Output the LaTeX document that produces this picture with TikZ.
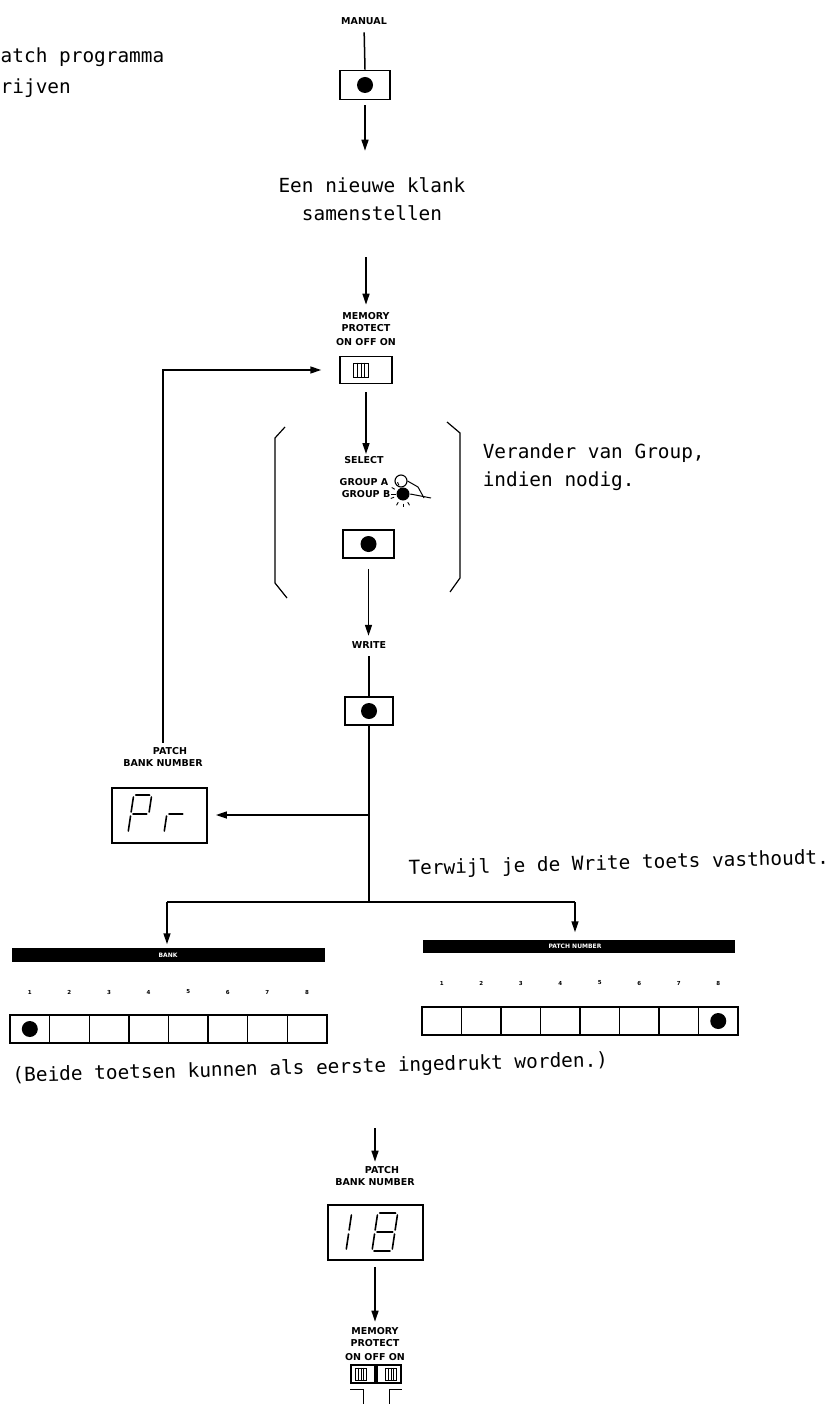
\documentclass[tikz,border=0pt]{standalone}
\usepackage{fontspec}
\setmainfont{DejaVu Sans}
\newfontfamily\monof{DejaVu Sans Mono}
\usetikzlibrary{arrows.meta}
\begin{document}
\begin{tikzpicture}[x=1pt,y=-1pt, line width=1.5pt,
  lbl/.style={font=\bfseries\fontsize{9.5}{12}\selectfont, inner sep=0pt, align=center},
  mono/.style={font=\monof\fontsize{19.4}{28}\selectfont, inner sep=0pt},
  btn/.style={draw, line width=1.8pt, minimum width=50pt, minimum height=29pt, inner sep=0pt},
  blackdot/.style={circle, fill, minimum size=16pt, inner sep=0pt},
  arr/.style={-{Triangle[length=11pt,width=7pt]}, line width=1.5pt},
  disp/.style={draw, line width=1.8pt, minimum width=95pt, minimum height=55pt, inner sep=0pt},
  blackbar/.style={fill=black, inner sep=0pt},
  cellbox/.style={draw, line width=1.4pt, minimum width=39.6pt, minimum height=28pt, inner sep=0pt},
  numtxt/.style={font=\bfseries\fontsize{5.5}{6}\selectfont, inner sep=0pt},
  barlbl/.style={font=\bfseries\fontsize{6}{7}\selectfont, text=white, inner sep=0pt},
  segline/.style={line width=1.6pt, line cap=round},
  swbox/.style={draw, line width=1.5pt, inner sep=0pt},
  slider/.style={draw, line width=0.8pt, minimum width=15pt, minimum height=14pt, inner sep=0pt},
]
\path[use as bounding box, fill=white] (0,0) rectangle (835,1412);

% top-left text
\node[mono, anchor=base west] (tl1) at (0,63) {atch programma};
\node[mono, anchor=base west] (tl2) at (0,94) {rijven};

% MANUAL
\node[lbl] (manlbl) at (364,21) {MANUAL};
\node[btn] (manbtn) at (365,85) {};
\node[blackdot] (mandot) at (manbtn) {};
\draw[shorten <=7pt] (manlbl.south) -- (manbtn.north);

% new sound text
\node[mono, align=center] (t1) at (372,199) {Een nieuwe klank\\samenstellen};
\draw[arr, shorten <=5pt, shorten >=26pt] (manbtn.south) -- (manbtn.south |- t1.north);

% memory protect
\node[lbl] (memlbl) at (366,329) {MEMORY\\PROTECT\\[2pt]ON OFF ON};
\draw[arr, shorten <=36pt, shorten >=7pt] (t1.south -| memlbl.north) -- (memlbl.north);
\node[swbox, minimum width=52pt, minimum height=27pt] (sw1) at (366,370) {};
\node[slider] (sl1) at (361,370) {};
\draw[line width=0.8pt] ([xshift=-3.5pt]sl1.north) -- ([xshift=-3.5pt]sl1.south)
  (sl1.north) -- (sl1.south) ([xshift=3.5pt]sl1.north) -- ([xshift=3.5pt]sl1.south);

% loop from patch bank number back to memory protect
\node[lbl] (prlbl) at (163,757) {\hspace*{14pt}PATCH\\BANK NUMBER};
\draw[arr, shorten <=4pt, shorten >=18pt] (prlbl.north) -- (prlbl.north |- sw1.west) -- (sw1.west);

% select
\draw[arr, shorten <=8pt, shorten >=6pt] (sw1.south) -- (sw1.south |- 0,460);
\node[lbl] (sellbl) at (364,460) {SELECT};
\node[lbl, anchor=east] (ga) at (389,482) {GROUP A};
\node[lbl, anchor=east] (gb) at (391,494) {GROUP B};
\node[circle, draw, line width=1.1pt, minimum size=12pt, inner sep=0pt] (leda) at (401,481) {};
\node[circle, fill, minimum size=13pt, inner sep=0pt] (ledb) at (403,494) {};
\draw[line width=1pt] (gb.east) -- (ledb.west);
\draw[line width=1pt] (leda.east) -- (418,487) -- (424,498);
\draw[line width=1pt] (ledb.east) -- (431,498);
\foreach \a in {-150,-115,160,120,90,60} \draw[line width=0.9pt] (ledb.center) ++(\a:9.5) -- ++(\a:3.5);
\node[btn, minimum width=51pt, minimum height=28pt] (selbtn) at (368.5,544) {};
\node[blackdot] (seldot) at (selbtn) {};

% brackets
\draw[line width=1.2pt] (285,427) -- (275,438) -- (275,583) -- (287,598);
\draw[line width=1.2pt] (447,422) -- (460,433) -- (460,578) -- (450,592);
\node[mono, anchor=base west, align=left] (t2) at (482,486) {Verander van Group,\\indien nodig.};

% write
\node[lbl] (wrlbl) at (369,645) {WRITE};
\draw[arr, shorten <=10pt, shorten >=5pt] (selbtn.south) -- (selbtn.south |- wrlbl.north);
\node[btn, minimum width=48pt, minimum height=28pt] (wrbtn) at (369,711) {};
\node[blackdot] (wrdot) at (wrbtn) {};
\draw[shorten <=7pt] (wrlbl.south) -- (wrbtn.north);
\coordinate (split) at (369,902);
\draw (wrbtn.south) -- (split);

% Pr display
\node[disp] (prbox) at (159.5,815.5) {};
\coordinate (prjoin) at (369,815);
\draw[arr, shorten >=8pt] (prjoin) -- (prbox.east |- prjoin);
\begin{scope}[shift={(128,833)}, xslant=0.15]
  \draw[segline] (2,-38)--(16,-38) (18,-36)--(18,-21) (0,-36)--(0,-21) (2,-19)--(16,-19) (0,-17)--(0,-2);
\end{scope}
\begin{scope}[shift={(164,833)}, xslant=0.15]
  \draw[segline] (2,-19)--(16,-19) (0,-17)--(0,-2);
\end{scope}

\node[mono, anchor=base west, rotate=1.5] (t3) at (408,875) {Terwijl je de Write toets vasthoudt.};

% split to bank / patch number
\coordinate (bk) at (167,902);
\coordinate (pt) at (575,902);
\draw (bk) -- (pt);
\node[blackbar, minimum width=313pt, minimum height=14pt] (bankbar) at (168.5,955) {};
\node[barlbl] (banklbl) at (168,955) {BANK};
\node[blackbar, minimum width=312pt, minimum height=13pt] (patchbar) at (579,946.5) {};
\node[barlbl] (patchlbl) at (575,946.5) {PATCH NUMBER};
\draw[arr, shorten >=3pt] (bk) -- (bk |- bankbar.north);
\draw[arr, shorten >=7pt] (pt) -- (pt |- patchbar.north);

\foreach \i in {1,...,8} {
  \node[numtxt] (bn\i) at ({10+39.6*(\i-0.5)},992) {\i};
  \node[cellbox] (bc\i) at ({10+39.6*(\i-0.5)},1029) {};
  \node[numtxt] (pn\i) at ({422+39.5*(\i-0.5)},983) {\i};
  \node[cellbox, minimum width=39.5pt] (pc\i) at ({422+39.5*(\i-0.5)},1021) {};
}
\node[blackdot] (bdot) at (bc1) {};
\node[blackdot] (pdot) at (pc8) {};

\node[mono, anchor=base west, rotate=1.5] (t4) at (12,1082) {(Beide toetsen kunnen als eerste ingedrukt worden.)};

% bottom column
\coordinate (ar2) at (375,1128);
\node[lbl] (prlbl2) at (375,1176) {\hspace*{14pt}PATCH\\BANK NUMBER};
\draw[arr, shorten >=4pt] (ar2) -- (prlbl2.north);
\node[disp] (disp2) at (375.5,1232.5) {};
\begin{scope}[shift={(326,1251)}, xslant=0.15]
  \draw[segline] (20,-36)--(20,-21) (20,-17)--(20,-2);
\end{scope}
\begin{scope}[shift={(372,1251)}, xslant=0.15]
  \draw[segline] (2,-38)--(18,-38) (20,-36)--(20,-21) (20,-17)--(20,-2) (2,0)--(18,0)
    (0,-17)--(0,-2) (0,-36)--(0,-21) (2,-19)--(18,-19);
\end{scope}
\node[lbl] (memlbl2) at (375,1344) {MEMORY\\PROTECT\\[2pt]ON OFF ON};
\draw[arr, shorten <=6pt, shorten >=5pt] (disp2.south -| memlbl2.north) -- (memlbl2.north);
\node[swbox, minimum width=24pt, minimum height=18pt] (sw2a) at (363,1374) {};
\node[swbox, minimum width=24pt, minimum height=18pt] (sw2b) at (389,1374) {};
\node[slider, minimum width=11pt, minimum height=12pt] (sl2a) at (361,1374) {};
\node[slider, minimum width=11pt, minimum height=12pt] (sl2b) at (391,1374) {};
\draw[line width=0.7pt] ([xshift=-2.5pt]sl2a.north) -- ([xshift=-2.5pt]sl2a.south)
  (sl2a.north) -- (sl2a.south) ([xshift=2.5pt]sl2a.north) -- ([xshift=2.5pt]sl2a.south)
  ([xshift=-2.5pt]sl2b.north) -- ([xshift=-2.5pt]sl2b.south)
  (sl2b.north) -- (sl2b.south) ([xshift=2.5pt]sl2b.north) -- ([xshift=2.5pt]sl2b.south);
% marks under the switches (cut off at the page edge)
\draw[line width=1pt] ([yshift=-6pt]sw2a.south west) -- ([yshift=-6pt]sw2a.south) -- ++(0,14);
\draw[line width=1pt] ([yshift=-6pt]sw2b.south east) -- ([yshift=-6pt]sw2b.south) -- ++(0,14);
\end{tikzpicture}
\end{document}
